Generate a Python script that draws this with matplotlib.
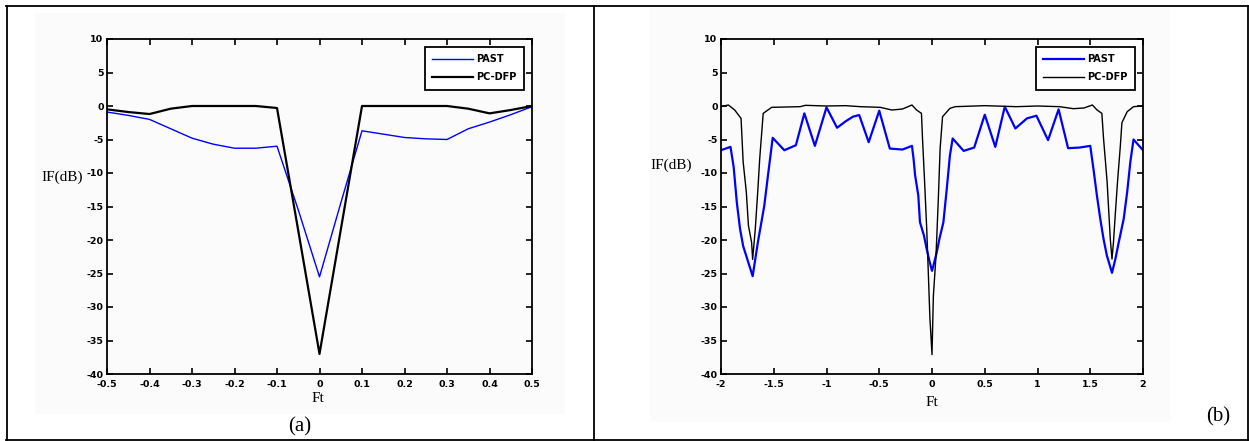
import matplotlib
matplotlib.use('Agg')
import matplotlib.pyplot as plt
from matplotlib.lines import Line2D
from matplotlib.patches import Rectangle

plt.rcParams['axes.unicode_minus'] = False

# ---------------- data ----------------
# panel (a)
ft_a = [-0.5, -0.45, -0.4, -0.35, -0.3, -0.25, -0.2, -0.15, -0.1, -0.05, 0.0,
        0.05, 0.1, 0.15, 0.2, 0.25, 0.3, 0.35, 0.4, 0.45, 0.5]
past_a = [-0.9, -1.4, -2.0, -3.4, -4.8, -5.7, -6.3, -6.3, -6.0, -15.5, -25.5,
          -14.5, -3.7, -4.2, -4.7, -4.9, -5.0, -3.4, -2.4, -1.3, -0.1]
pcdfp_a = [-0.5, -0.9, -1.2, -0.4, 0.0, 0.0, 0.0, 0.0, -0.3, -18.6, -37.0,
           -18.5, 0.0, 0.0, 0.0, 0.0, 0.0, -0.4, -1.1, -0.6, 0.0]

# panel (b)
ft_b_past = [-2.0, -1.91, -1.88, -1.85, -1.82, -1.79, -1.74, -1.70, -1.65, -1.59,
             -1.555, -1.51, -1.40, -1.29, -1.21, -1.11, -1.0, -0.90, -0.82, -0.75,
             -0.69, -0.60, -0.50, -0.40, -0.28, -0.19, -0.175, -0.16, -0.13, -0.114,
             -0.076, -0.05, -0.025, 0.0, 0.013, 0.045, 0.07, 0.108, 0.14, 0.17,
             0.196, 0.30, 0.40, 0.50, 0.60, 0.69, 0.79, 0.90, 0.99, 1.10,
             1.20, 1.29, 1.40, 1.50, 1.53, 1.563, 1.595, 1.626, 1.658, 1.706,
             1.738, 1.77, 1.817, 1.85, 1.88, 1.91, 2.0]
past_b = [-6.6, -6.1, -9.1, -14.4, -18.3, -20.9, -23.4, -25.4, -20.3, -14.9,
          -10.4, -4.75, -6.6, -5.85, -1.1, -5.95, -0.2, -3.25, -2.3, -1.6,
          -1.35, -5.4, -0.7, -6.35, -6.5, -5.95, -7.85, -10.35, -13.35, -17.35,
          -19.35, -21.35, -23.1, -24.6, -23.85, -21.85, -19.85, -17.35, -12.35, -7.35,
          -4.85, -6.7, -6.2, -1.3, -6.1, -0.1, -3.35, -1.85, -1.45, -5.1,
          -0.5, -6.3, -6.2, -5.95, -9.35, -13.35, -16.85, -19.85, -22.35, -24.9,
          -22.85, -20.35, -16.85, -12.85, -8.35, -5.0, -6.6]

ft_b_pcdfp = [-2.0, -1.93, -1.87, -1.81, -1.79, -1.76, -1.74, -1.71, -1.70, -1.675,
              -1.65, -1.633, -1.60, -1.52, -1.25, -1.2, -1.0, -0.82, -0.68, -0.49,
              -0.38, -0.28, -0.19, -0.146, -0.10, -0.09, -0.07, -0.05, -0.035, -0.02,
              0.0, 0.013, 0.038, 0.06, 0.077, 0.10, 0.17, 0.22, 0.5, 0.8,
              1.0, 1.21, 1.34, 1.44, 1.52, 1.565, 1.61, 1.626, 1.66, 1.674,
              1.69, 1.706, 1.72, 1.738, 1.76, 1.785, 1.80, 1.85, 1.91, 2.0]
pcdfp_b = [-0.1, 0.15, -0.6, -1.85, -8.35, -12.85, -17.85, -20.35, -22.9, -18.35,
           -12.35, -7.85, -1.1, -0.2, -0.1, 0.1, 0.0, 0.05, -0.1, -0.2,
           -0.6, -0.45, 0.15, -0.6, -1.1, -4.85, -11.35, -18.35, -24.85, -31.6,
           -37.1, -28.35, -22.35, -13.85, -6.35, -1.6, -0.35, -0.1, 0.05, -0.1,
           0.0, -0.1, -0.4, -0.3, 0.15, -0.6, -1.1, -4.85, -11.35, -15.35,
           -19.85, -22.85, -20.35, -16.0, -11.0, -6.0, -2.5, -0.85, -0.1, 0.0]

yticks = [10, 5, 0, -5, -10, -15, -20, -25, -30, -35, -40]
ytick_labels = ['10', '5', '0', '-5', '-10', '-15', '-20', '-25', '-30', '-35', '-40']
xticks_a = [-0.5, -0.4, -0.3, -0.2, -0.1, 0, 0.1, 0.2, 0.3, 0.4, 0.5]
xtick_labels_a = ['-0.5', '-0.4', '-0.3', '-0.2', '-0.1', '0', '0.1', '0.2', '0.3', '0.4', '0.5']
xticks_b = [-2, -1.5, -1, -0.5, 0, 0.5, 1, 1.5, 2]
xtick_labels_b = ['-2', '-1.5', '-1', '-0.5', '0', '0.5', '1', '1.5', '2']
series_names = ['PAST', 'PC-DFP']

# ---------------- figure ----------------
W, H = 1249, 441
fig = plt.figure(figsize=(W / 100, H / 100), dpi=100)


def fx(px):
    return px / W


def fy(py):
    return 1 - py / H


# faint image backgrounds
for (x0, y0, x1, y1) in [(35, 13, 565, 414), (650, 8, 1170, 422)]:
    fig.add_artist(Rectangle((fx(x0), fy(y1)), fx(x1) - fx(x0), fy(y0) - fy(y1),
                             facecolor='#fbfbfb', edgecolor='none',
                             transform=fig.transFigure, zorder=0))

# outer table border
border_kw = dict(color='black', lw=1.3, transform=fig.transFigure, zorder=5)
for (xa, ya, xb, yb) in [(6, 6, 1248, 6), (6, 440, 1248, 440), (6.5, 6, 6.5, 440),
                         (1247.5, 6, 1247.5, 440), (594, 6, 594, 440)]:
    fig.add_artist(Line2D([fx(xa), fx(xb)], [fy(ya), fy(yb)], **border_kw))

tick_font = dict(family='DejaVu Sans', fontweight='bold', fontsize=6.8)
serif = 'Liberation Serif'


def style_axes(ax, xlim, xticks, xlabels):
    ax.set_facecolor('none')
    ax.set_xlim(*xlim)
    ax.set_ylim(-40, 10)
    ax.set_xticks(xticks, xlabels, **tick_font)
    ax.set_yticks(yticks, ytick_labels, **tick_font)
    ax.tick_params(direction='in', length=4, width=1.2, top=True, right=True)
    ax.tick_params(axis='x', pad=4)
    ax.tick_params(axis='y', pad=2.5)
    for s in ax.spines.values():
        s.set_linewidth(1.3)


ax1 = fig.add_axes([fx(107), fy(374), fx(532) - fx(107), fy(39) - fy(374)])
ax1.plot(ft_a, past_a, color='#0000ff', lw=1.0, label=series_names[0])
ax1.plot(ft_a, pcdfp_a, color='black', lw=1.6, label=series_names[1])
style_axes(ax1, (-0.5, 0.5), xticks_a, xtick_labels_a)

ax2 = fig.add_axes([fx(721), fy(374), fx(1143) - fx(721), fy(39) - fy(374)])
ax2.plot(ft_b_past, past_b, color='#0000ff', lw=1.6, label=series_names[0])
ax2.plot(ft_b_pcdfp, pcdfp_b, color='black', lw=1.0, label=series_names[1])
style_axes(ax2, (-2, 2), xticks_b, xtick_labels_b)

for ax in (ax1, ax2):
    leg = ax.legend(loc='upper right', prop=dict(family='DejaVu Sans', weight='bold', size=7),
                    handlelength=4.2, handletextpad=0.4, borderpad=0.75,
                    labelspacing=0.85, borderaxespad=0.8, fancybox=False,
                    framealpha=1, edgecolor='black')
    leg.get_frame().set_linewidth(1.3)

# axis labels
fig.text(fx(62), fy(177), 'IF(dB)', family=serif, fontsize=11, ha='center', va='center')
fig.text(fx(671), fy(165), 'IF(dB)', family=serif, fontsize=11, ha='center', va='center')
fig.text(fx(318), fy(398), 'Ft', family=serif, fontsize=11, ha='center', va='center')
fig.text(fx(932), fy(403), 'Ft', family=serif, fontsize=11, ha='center', va='center')

# panel captions
fig.text(fx(300), fy(427), '(a)', family=serif, fontsize=15, ha='center', va='center')
fig.text(fx(1218), fy(417), '(b)', family=serif, fontsize=15, ha='center', va='center')

fig.savefig('out.png', dpi=100)
